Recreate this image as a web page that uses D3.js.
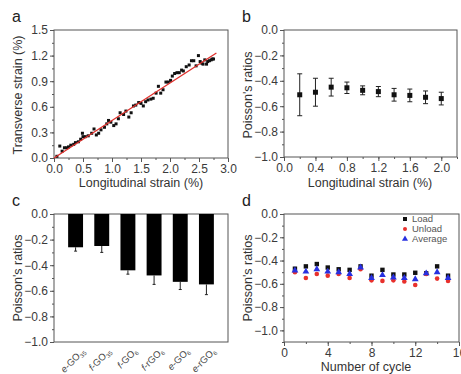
<!DOCTYPE html>
<html>
<head>
<meta charset="utf-8">
<script src="https://cdn.jsdelivr.net/npm/d3@7"></script>
<style>
  body { margin: 0; background: #fff; }
  svg { display: block; font-family: "Liberation Sans", Arial, sans-serif; }
  .tick text { fill: #3a3a3a; font-size: 12px; }
  .tick line { stroke: #555; }
</style>
</head>
<body>
<svg id="chart" width="461" height="374"></svg>
<script>
// panel a: transverse vs longitudinal strain
const aX = [0.05,0.10,0.14,0.18,0.22,0.25,0.29,0.34,0.37,0.42,0.46,0.49,0.50,0.54,0.59,0.65,0.69,0.73,0.77,0.81,0.87,0.91,0.94,0.98,1.03,1.07,1.11,1.14,1.20,1.24,1.29,1.33,1.37,1.41,1.46,1.50,1.54,1.58,1.62,1.67,1.71,1.76,1.80,1.84,1.88,1.93,1.97,2.01,2.04,2.08,2.12,2.16,2.20,2.23,2.28,2.33,2.37,2.41,2.45,2.49,2.52,2.55,2.57,2.60,2.63,2.65,2.68,2.71,2.73,2.75];
const aY = [0.02,0.14,0.08,0.12,0.12,0.13,0.15,0.16,0.18,0.19,0.22,0.29,0.25,0.25,0.26,0.29,0.34,0.27,0.29,0.33,0.36,0.40,0.44,0.42,0.38,0.40,0.46,0.53,0.51,0.55,0.48,0.53,0.61,0.62,0.65,0.64,0.61,0.66,0.68,0.69,0.70,0.76,0.84,0.76,0.80,0.89,0.89,0.91,0.96,0.99,1.00,1.00,1.03,1.02,1.07,1.09,1.14,1.14,1.08,1.20,1.13,1.11,1.10,1.15,1.10,1.13,1.14,1.15,1.16,1.16];
const aFitX = [0, 2.8];
const aFitY = [0, 1.23];

// panel b: Poisson's ratio vs strain
const bX = [0.2,0.4,0.6,0.8,1.0,1.2,1.4,1.6,1.8,2.0];
const bY = [-0.51,-0.49,-0.45,-0.455,-0.475,-0.485,-0.51,-0.515,-0.53,-0.54];
const bErr = [0.165,0.11,0.07,0.045,0.035,0.04,0.05,0.05,0.05,0.05];

// panel c: samples
const cCats = [["e","-GO","35"],["f","-GO","35"],["f","-GO","6"],["f","-rGO","6"],["e","-GO","6"],["e","-rGO","6"]];
const cVals = [-0.26,-0.25,-0.44,-0.48,-0.53,-0.55];
const cErr = [0.03,0.05,0.03,0.07,0.06,0.08];

// panel d: cycles
const dCycles = [1,2,3,4,5,6,7,8,9,10,11,12,13,14,15];
const dLoad = [-0.47,-0.45,-0.43,-0.46,-0.475,-0.48,-0.45,-0.53,-0.48,-0.52,-0.52,-0.505,-0.51,-0.45,-0.53];
const dUnload = [-0.50,-0.55,-0.515,-0.53,-0.515,-0.55,-0.475,-0.57,-0.575,-0.57,-0.58,-0.61,-0.515,-0.555,-0.575];
const dAvg = [-0.485,-0.495,-0.475,-0.495,-0.50,-0.515,-0.46,-0.55,-0.525,-0.545,-0.55,-0.56,-0.51,-0.50,-0.55];

const svg = d3.select("#chart");

function frame(x, y, xMajor, xMinor, yMajor, yMinor, xFmt, yFmt) {
  const [x0, x1] = x.range(), [y1, y0] = y.range();
  const g = svg.append("g");
  if (xMajor) {
    g.append("g").attr("transform", `translate(0,${y1})`)
      .call(d3.axisBottom(x).tickValues(xMinor).tickSize(2).tickFormat(""))
      .call(s => s.select(".domain").remove());
    g.append("g").attr("transform", `translate(0,${y1})`)
      .call(d3.axisBottom(x).tickValues(xMajor).tickSize(4).tickPadding(2).tickFormat(xFmt))
      .call(s => s.select(".domain").remove());
  }
  g.append("g").attr("transform", `translate(${x0},0)`)
    .call(d3.axisLeft(y).tickValues(yMinor).tickSize(2).tickFormat(""))
    .call(s => s.select(".domain").remove());
  g.append("g").attr("transform", `translate(${x0},0)`)
    .call(d3.axisLeft(y).tickValues(yMajor).tickSize(4).tickPadding(2).tickFormat(yFmt))
    .call(s => s.select(".domain").remove());
  g.append("rect").attr("x", x0).attr("y", y0).attr("width", x1 - x0).attr("height", y1 - y0)
    .attr("fill", "none").attr("stroke", "#555").attr("stroke-width", 1);
  return g;
}

function title(txt, x, y, rot) {
  svg.append("text").attr("transform", `translate(${x},${y})` + (rot ? " rotate(-90)" : ""))
    .attr("text-anchor", "middle").attr("font-size", 12.5).attr("fill", "#333").text(txt);
}

function letter(txt, x, y) {
  svg.append("text").attr("x", x).attr("y", y).attr("font-size", 16).attr("fill", "#222").text(txt);
}

const f1 = d3.format(".1f");
const steps = (a, b, s) => d3.range(Math.round((b - a) / s) + 1).map(i => +(a + i * s).toFixed(3));

// ---- panel a
const xa = d3.scaleLinear().domain([0, 3]).range([54, 228]);
const ya = d3.scaleLinear().domain([0, 1.5]).range([158, 30]);
frame(xa, ya, steps(0, 3, 0.5), steps(0, 3, 0.25), steps(0, 1.5, 0.3), steps(0, 1.5, 0.15), f1, f1);
svg.append("g").selectAll("rect").data(aX).join("rect")
  .attr("x", (d, i) => xa(d) - 1.5).attr("y", (d, i) => ya(aY[i]) - 1.5)
  .attr("width", 3).attr("height", 3).attr("fill", "#111");
svg.append("line")
  .attr("x1", xa(aFitX[0])).attr("y1", ya(aFitY[0]))
  .attr("x2", xa(aFitX[1])).attr("y2", ya(aFitY[1]))
  .attr("stroke", "#e0302c").attr("stroke-width", 1.3);
title("Longitudinal strain (%)", 141, 187);
title("Transverse strain (%)", 22, 95, true);
letter("a", 12, 22);

// ---- panel b
const xb = d3.scaleLinear().domain([0, 2.2]).range([284, 457]);
const yb = d3.scaleLinear().domain([-1, 0]).range([157, 30]);
frame(xb, yb, steps(0, 2.0, 0.4), steps(0, 2.2, 0.2), steps(-1, 0, 0.2), steps(-1, 0, 0.1), f1, f1);
const eb = svg.append("g").attr("stroke", "#222").attr("stroke-width", 1);
bX.forEach((v, i) => {
  const cx = xb(v), t = yb(bY[i] + bErr[i]), b = yb(bY[i] - bErr[i]);
  eb.append("line").attr("x1", cx).attr("x2", cx).attr("y1", t).attr("y2", b);
  eb.append("line").attr("x1", cx - 2.5).attr("x2", cx + 2.5).attr("y1", t).attr("y2", t);
  eb.append("line").attr("x1", cx - 2.5).attr("x2", cx + 2.5).attr("y1", b).attr("y2", b);
});
svg.append("g").selectAll("rect").data(bX).join("rect")
  .attr("x", d => xb(d) - 2.5).attr("y", (d, i) => yb(bY[i]) - 2.5)
  .attr("width", 5).attr("height", 5).attr("fill", "#111");
title("Longitudinal strain (%)", 370, 187);
title("Poisson's ratios", 252, 95, true);
letter("b", 242, 22);

// ---- panel c
const xc = d3.scaleBand().domain(d3.range(cCats.length)).range([54, 228]).paddingInner(0.43).paddingOuter(0.54);
const yc = d3.scaleLinear().domain([-1, 0]).range([342, 214]);
frame(xc, yc, null, null, steps(-1, 0, 0.2), steps(-1, 0, 0.1), null, f1);
svg.append("g").selectAll("rect").data(cVals).join("rect")
  .attr("x", (d, i) => xc(i)).attr("y", yc(0))
  .attr("width", xc.bandwidth()).attr("height", d => yc(d) - yc(0)).attr("fill", "#000");
const ec = svg.append("g").attr("stroke", "#222").attr("stroke-width", 1);
cVals.forEach((v, i) => {
  const cx = xc(i) + xc.bandwidth() / 2;
  ec.append("line").attr("x1", cx).attr("x2", cx).attr("y1", yc(v)).attr("y2", yc(v - cErr[i]));
  ec.append("line").attr("x1", cx - 1.5).attr("x2", cx + 1.5).attr("y1", yc(v - cErr[i])).attr("y2", yc(v - cErr[i]));
});
cCats.forEach((c, i) => {
  const cx = xc(i) + xc.bandwidth() / 2;
  const t = svg.append("text").attr("transform", `translate(${cx + 10},${352}) rotate(-45)`)
    .attr("text-anchor", "end").attr("font-size", 9.5).attr("fill", "#444");
  t.append("tspan").attr("font-style", "italic").text(c[0]);
  t.append("tspan").text(c[1]);
  t.append("tspan").attr("font-size", 6).attr("dy", 2).text(c[2]);
});
title("Poisson's ratios", 22, 278, true);
letter("c", 12, 206);

// ---- panel d
const xd = d3.scaleLinear().domain([0, 16]).range([284, 459]);
const yd = d3.scaleLinear().domain([-1.1, 0]).range([342, 214]);
frame(xd, yd, steps(0, 16, 4), steps(0, 16, 2), steps(-1, 0, 0.2), steps(-1.1, 0, 0.1), d3.format("d"), f1);
const pd = svg.append("g");
pd.selectAll(".ld").data(dCycles).join("rect").attr("class", "ld")
  .attr("x", d => xd(d) - 2.2).attr("y", (d, i) => yd(dLoad[i]) - 2.2)
  .attr("width", 4.4).attr("height", 4.4).attr("fill", "#111");
pd.selectAll(".ul").data(dCycles).join("circle").attr("class", "ul")
  .attr("cx", d => xd(d)).attr("cy", (d, i) => yd(dUnload[i])).attr("r", 2.3).attr("fill", "#e8302c");
const tri = d3.symbol(d3.symbolTriangle, 20);
pd.selectAll(".av").data(dCycles).join("path").attr("class", "av")
  .attr("transform", (d, i) => `translate(${xd(d)},${yd(dAvg[i])})`).attr("d", tri).attr("fill", "#2830e0");
// legend
const lg = svg.append("g").attr("font-size", 9.5).attr("fill", "#555");
lg.append("rect").attr("x", 403).attr("y", 217).attr("width", 4).attr("height", 4).attr("fill", "#111");
lg.append("circle").attr("cx", 405).attr("cy", 229).attr("r", 2).attr("fill", "#e8302c");
lg.append("path").attr("transform", "translate(405,239)").attr("d", d3.symbol(d3.symbolTriangle, 16)).attr("fill", "#2830e0");
[["Load", 222], ["Unload", 232], ["Average", 242]].forEach(([t, y]) =>
  lg.append("text").attr("x", 412).attr("y", y).text(t));
title("Number of cycle", 366, 371);
title("Poisson's ratios", 252, 278, true);
letter("d", 242, 206);
</script>
</body>
</html>
